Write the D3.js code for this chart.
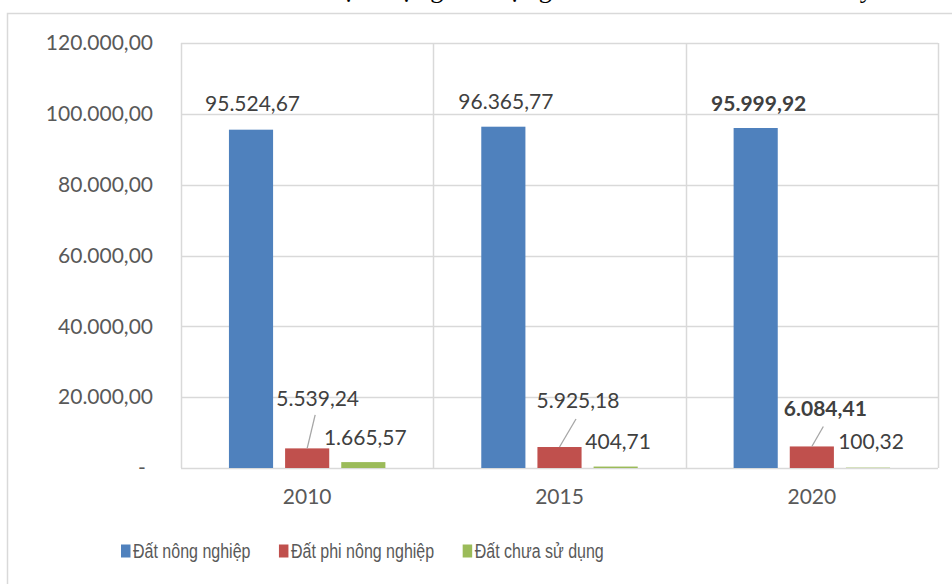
<!DOCTYPE html>
<head>
    <meta charset="utf-8">
    <title>Hiện trạng sử dụng đất</title>
</head>
<style>
    body { margin: 0; background: #fff; }
    svg { display: block; }
    .val { font-family: Lato, "Open Sans", sans-serif; font-size: 21px; }
    .legend text { font-family: "Liberation Sans", Arial, sans-serif; font-size: 20px; fill: #595959; }
</style>
<svg width="952" height="584"></svg>
<script src="https://d3js.org/d3.v7.min.js"></script>
<script>

    // data
    var years = ["2010", "2015", "2020"];
    var seriesNames = ["Đất nông nghiệp", "Đất phi nông nghiệp", "Đất chưa sử dụng"];
    var nongNghiep = [95524.67, 96365.77, 95999.92];
    var phiNongNghiep = [5539.24, 5925.18, 6084.41];
    var chuaSuDung = [1665.57, 404.71, 100.32];
    var yTicks = [0, 20000, 40000, 60000, 80000, 100000, 120000];
    var colors = ["#4f81bd", "#c0504d", "#9bbb59"];

    // label placement (the labels were dragged by hand in the original)
    // [dx, dy] of label baseline from bar top center, plus leader line end
    var labelLayout = [
        [[1.5, -19], [2.5, -18], [3, -17.5]],
        [[10.5, -42.5], [18.5, -39], [13.5, -30]],
        [[2, -17], [2.5, -17.5], [3, -18.5]]
    ];
    var leaders = [null, [[8, -33.5], [16.5, -28], [11.5, -20]], null];
    var boldLabels = [[false, false, true], [false, false, true], [false, false, false]];

    var allValues = [nongNghiep, phiNongNghiep, chuaSuDung];

    var svg = d3.select("svg");
    var plot = {left: 181, right: 938, top: 43, bottom: 468};

    var vn = d3.formatLocale({decimal: ",", thousands: ".", grouping: [3], currency: ["", ""]});
    var fmt = vn.format(",.2f");

    var x0 = d3.scaleBand().domain(years).range([plot.left, plot.right]);
    var bw = x0.bandwidth();
    var x1 = d3.scaleBand().domain(d3.range(seriesNames.length))
        .range([bw * 0.19, bw * 0.81]).paddingInner(0.214);
    var y = d3.scaleLinear().domain([0, 120000]).range([plot.bottom, plot.top]);

    // title (cut off at the top of the picture, as in the original)
    svg.append("text")
        .attr("x", 210).attr("y", -2)
        .attr("textLength", 670).attr("lengthAdjust", "spacing")
        .style("font-family", "'Liberation Serif', 'Times New Roman', serif")
        .style("font-size", "26px")
        .attr("fill", "#000")
        .text("Biểu đồ hiện trạng sử dụng đất từ năm 2010 đến nay.");

    // chart area border
    svg.append("rect")
        .attr("x", 7.5).attr("y", 13.5)
        .attr("width", 1000).attr("height", 700)
        .attr("fill", "none").attr("stroke", "#d9d9d9").attr("stroke-width", 1.5);

    // gridlines
    svg.append("g").selectAll("line")
        .data(yTicks)
        .enter().append("line")
        .attr("x1", plot.left).attr("x2", plot.right)
        .attr("y1", function(d) { return Math.round(y(d)) + 0.5; })
        .attr("y2", function(d) { return Math.round(y(d)) + 0.5; })
        .attr("stroke", "#d9d9d9").attr("stroke-width", 1.5);

    var vlines = [plot.left].concat(years.map(function(d) { return x0(d) + bw; }));
    svg.append("g").selectAll("line")
        .data(vlines)
        .enter().append("line")
        .attr("x1", function(d) { return Math.round(d) + 0.5; })
        .attr("x2", function(d) { return Math.round(d) + 0.5; })
        .attr("y1", plot.top).attr("y2", plot.bottom)
        .attr("stroke", "#d9d9d9").attr("stroke-width", 1.5);

    // y axis
    var yAxis = d3.axisLeft(y).tickValues(yTicks).tickSize(0).tickPadding(0)
        .tickFormat(function(d) { return d === 0 ? "-" : fmt(d); });
    var ya = svg.append("g").attr("transform", "translate(153,0)").call(yAxis);
    ya.select(".domain").remove();
    ya.selectAll("text")
        .attr("fill", "#595959")
        .attr("x", function(d) { return d === 0 ? -11 : 0; })
        .attr("text-anchor", function(d) { return d === 0 ? "middle" : "end"; })
        .style("font-family", "Lato, 'Open Sans', sans-serif")
        .style("font-size", "21px");

    // x axis labels
    var xAxis = d3.axisBottom(x0).tickSize(0).tickPadding(0);
    var xa = svg.append("g").attr("transform", "translate(0," + (plot.bottom + 21) + ")").call(xAxis);
    xa.select(".domain").remove();
    xa.selectAll("text")
        .attr("fill", "#595959")
        .style("font-family", "Lato, 'Open Sans', sans-serif")
        .style("font-size", "21px");

    // bars
    var groups = svg.append("g").selectAll("g")
        .data(years)
        .enter().append("g")
        .attr("transform", function(d) { return "translate(" + x0(d) + ",0)"; });

    groups.selectAll("rect")
        .data(function(d, i) { return allValues.map(function(s, k) { return {k: k, v: s[i]}; }); })
        .enter().append("rect")
        .attr("x", function(d) { return x1(d.k); })
        .attr("width", x1.bandwidth())
        .attr("y", function(d) { return y(d.v); })
        .attr("height", function(d) { return plot.bottom - y(d.v); })
        .attr("fill", function(d) { return colors[d.k]; });

    // leader lines + value labels
    allValues.forEach(function(vals, k) {
        vals.forEach(function(v, i) {
            var cx = x0(years[i]) + x1(k) + x1.bandwidth() / 2;
            var top = y(v);
            if (leaders[k]) {
                svg.append("line")
                    .attr("x1", cx).attr("y1", top)
                    .attr("x2", cx + leaders[k][i][0]).attr("y2", top + leaders[k][i][1])
                    .attr("stroke", "#a6a6a6").attr("stroke-width", 1.3);
            }
            svg.append("text")
                .attr("class", "val")
                .attr("x", cx + labelLayout[k][i][0])
                .attr("y", top + labelLayout[k][i][1])
                .attr("text-anchor", "middle")
                .attr("fill", "#404040")
                .style("font-weight", boldLabels[k][i] ? "bold" : "normal")
                .text(fmt(v));
        });
    });

    // legend (narrow sans: squeeze the text horizontally)
    var legend = svg.append("g").attr("class", "legend").attr("transform", "translate(121,0)");
    var lx = 0;
    seriesNames.forEach(function(name, k) {
        var item = legend.append("g").attr("transform", "translate(" + lx + ",0)");
        item.append("rect")
            .attr("x", 0).attr("y", 544.5)
            .attr("width", 9.5).attr("height", 13)
            .attr("fill", colors[k]);
        var t = item.append("text")
            .attr("x", 12).attr("y", 557.5)
            .text(name);
        var w = t.node().getComputedTextLength() * 0.8;
        t.attr("textLength", w).attr("lengthAdjust", "spacingAndGlyphs");
        lx += 12 + w + 28.5;
    });

</script>
